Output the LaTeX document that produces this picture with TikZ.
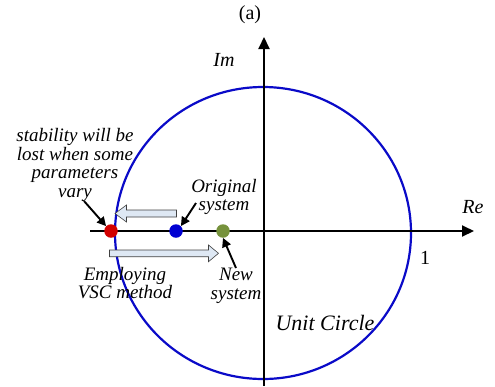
\documentclass[tikz,border=0pt]{standalone}
\usepackage{fontspec}
\setmainfont{Liberation Serif}
\usetikzlibrary{arrows.meta}
\definecolor{circblue}{RGB}{10,10,200}
\definecolor{dotred}{RGB}{210,0,0}
\definecolor{dotblue}{RGB}{0,0,210}
\definecolor{dotgreen}{RGB}{118,146,60}
\definecolor{hollowfill}{RGB}{222,232,244}
\begin{document}
\begin{tikzpicture}[x=1pt,y=-1pt,
  lbl/.style={font=\fontsize{19}{18.5}\selectfont\itshape, align=center, inner sep=0pt},
  rlbl/.style={font=\fontsize{20}{18.5}\selectfont, inner sep=0pt},
  dotmark/.style={circle, inner sep=0pt, minimum size=13.5pt},
  axis/.style={line width=2pt, -{Triangle[length=12pt,width=11pt]}},
  pointer/.style={line width=1.9pt, -{Triangle[length=9pt,width=9pt]}},
  hollow/.style={draw=black!75, line width=0.6pt, fill=hollowfill, line join=miter}]
\useasboundingbox (0,0) rectangle (495,386);
% circle
\draw[circblue, line width=2.2pt] (263,233) ellipse (148 and 146);
% axes
\coordinate (xs) at (90,231);
\coordinate (xe) at (474,231);
\coordinate (ys) at (264,386);
\coordinate (ye) at (264,37);
\draw[axis] (xs) -- (xe);
\draw[axis] (ys) -- (ye);
% hollow arrows
\draw[hollow] (176.5,210) -- (126.5,210) -- (126.5,205) -- (115,213.5) -- (126.5,222) -- (126.5,217) -- (176.5,217) -- cycle;
\draw[hollow] (109.5,250) -- (208.5,250) -- (208.5,245) -- (218.5,253.3) -- (208.5,261.7) -- (208.5,256.7) -- (109.5,256.7) -- cycle;
% dots
\node[dotmark, fill=dotred] (red) at (111,231) {};
\node[dotmark, fill=dotblue] (blue) at (176,231) {};
\node[dotmark, fill=dotgreen] (green) at (223,231) {};
% labels
\node[lbl] (stab) at (75,165) {stability will be\\lost when some\\parameters\\vary};
\node[lbl] (orig) at (224,197) {Original\\system};
\node[lbl] (emp) at (125,283) {Employing\\VSC method};
\node[lbl] (new) at (236,286) {New\\system};
\node[lbl, font=\fontsize{20}{20}\selectfont\itshape] (im) at (224,60) {Im};
\node[lbl, font=\fontsize{20}{20}\selectfont\itshape] (re) at (473,207) {Re};
\node[rlbl] (one) at (425,258) {1};
\node[rlbl] (a) at (250,15) {(a)};
\node[lbl, font=\fontsize{22}{22}\selectfont\itshape] (uc) at (325,323) {Unit Circle};
% pointers
\coordinate (p1s) at (84,201);
\coordinate (p2s) at (196,203);
\coordinate (p3s) at (236,268);
\draw[pointer] (p1s) -- (red.north west);
\draw[pointer] (p2s) -- (blue.north east);
\draw[pointer] (p3s) -- (green.south);
\end{tikzpicture}
\end{document}
